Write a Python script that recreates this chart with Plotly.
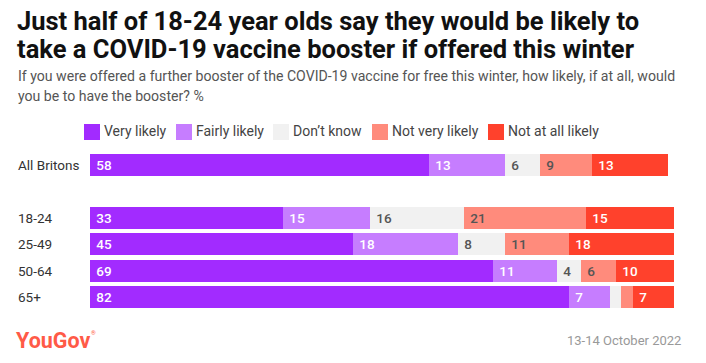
import plotly.graph_objects as go

# ---- data ----
groups = ["All Britons", "18-24", "25-49", "50-64", "65+"]
group_pos = [5, 3, 2, 1, 0]
series_names = ["Very likely", "Fairly likely", "Don\u2019t know", "Not very likely", "Not at all likely"]
very_likely = [58, 33, 45, 69, 82]
fairly_likely = [13, 15, 18, 11, 7]
dont_know = [6, 16, 8, 4, 2]
not_very_likely = [9, 21, 11, 6, 2]
not_at_all_likely = [13, 15, 18, 10, 7]
series_values = [very_likely, fairly_likely, dont_know, not_very_likely, not_at_all_likely]

title_lines = ["Just half of 18-24 year olds say they would be likely to",
               "take a COVID-19 vaccine booster if offered this winter"]
subtitle_lines = ["If you were offered a further booster of the COVID-19 vaccine for free this winter, how likely, if at all, would",
                  "you be to have the booster? %"]
date_text = "13-14 October 2022"

colors = ["#a22bff", "#c67dff", "#f1f1f1", "#ff8b7c", "#ff412c"]
text_colors = ["#ffffff", "#ffffff", "#555555", "#555555", "#ffffff"]

W, H = 706, 363
L, R, T, B = 90, 32, 154, 55
PW, PH = W - L - R, H - T - B
FONT = "Roboto"


def px_x(px):
    return (px - L) / PW


def px_y(py):
    return (H - B - py) / PH


fig = go.Figure()
for name, vals, c, tc in zip(series_names, series_values, colors, text_colors):
    fig.add_trace(go.Bar(
        name=name,
        x=vals,
        y=group_pos,
        orientation="h",
        width=0.83,
        marker=dict(color=c, line=dict(width=0)),
        text=["\u00a0" + str(v) if v >= 3 else "" for v in vals],
        textposition="inside",
        insidetextanchor="start",
        constraintext="none",
        textfont=dict(family=FONT, size=13.5, color=tc, weight=500),
        hoverinfo="x+name",
        showlegend=False,
    ))

annotations = []
shapes = []

# title & subtitle
for i, line in enumerate(title_lines):
    annotations.append(dict(
        text="<b>" + line + "</b>",
        xref="paper", yref="paper", x=px_x(15), y=px_y(21 + 28 * i), xanchor="left", yanchor="middle",
        showarrow=False, align="left", font=dict(family=FONT, size=25.5, color="#111111")))
for i, line in enumerate(subtitle_lines):
    annotations.append(dict(
        text=line,
        xref="paper", yref="paper", x=px_x(16), y=px_y(76 + 20 * i), xanchor="left", yanchor="middle",
        showarrow=False, align="left", font=dict(family=FONT, size=14.1, color="#555555")))

# legend (manual)
legend_x = [84, 176, 273, 372, 488]
for name, c, lx in zip(series_names, colors, legend_x):
    shapes.append(dict(type="rect", xref="paper", yref="paper",
                       x0=px_x(lx), x1=px_x(lx + 16), y0=px_y(140), y1=px_y(124),
                       fillcolor=c, line=dict(width=0)))
    annotations.append(dict(text=name, xref="paper", yref="paper",
                            x=px_x(lx + 18), y=px_y(131), xanchor="left", yanchor="middle",
                            showarrow=False, font=dict(family=FONT, size=14, color="#444444")))

# category labels
for g, p in zip(groups, group_pos):
    annotations.append(dict(text=g, xref="paper", yref="y", x=px_x(16), y=p,
                            xanchor="left", yanchor="middle", showarrow=False,
                            font=dict(family=FONT, size=13.5, color="#333333")))

# footer
annotations.append(dict(text="<b>YouGov</b>", xref="paper", yref="paper",
                        x=px_x(14), y=px_y(340), xanchor="left", yanchor="middle", showarrow=False,
                        font=dict(family=FONT, size=21.5, color="#ff5a47")))
annotations.append(dict(text="\u00ae", xref="paper", yref="paper",
                        x=px_x(89), y=px_y(332), xanchor="left", yanchor="middle", showarrow=False,
                        font=dict(family=FONT, size=6, color="#ff5a47")))
annotations.append(dict(text=date_text, xref="paper", yref="paper",
                        x=px_x(683), y=px_y(340), xanchor="right", yanchor="middle", showarrow=False,
                        font=dict(family=FONT, size=13, color="#999999")))

fig.update_layout(
    width=W, height=H,
    margin=dict(l=L, r=R, t=T, b=B),
    barmode="stack",
    bargap=0,
    paper_bgcolor="white", plot_bgcolor="white",
    xaxis=dict(range=[0, 100], visible=False, fixedrange=True),
    yaxis=dict(range=[-0.415, 5.415], visible=False, fixedrange=True),
    annotations=annotations,
    shapes=shapes,
    showlegend=False,
    font=dict(family=FONT),
)

fig.write_html("out.html", post_script="document.body.style.margin='0';",
               config={"displayModeBar": False})
